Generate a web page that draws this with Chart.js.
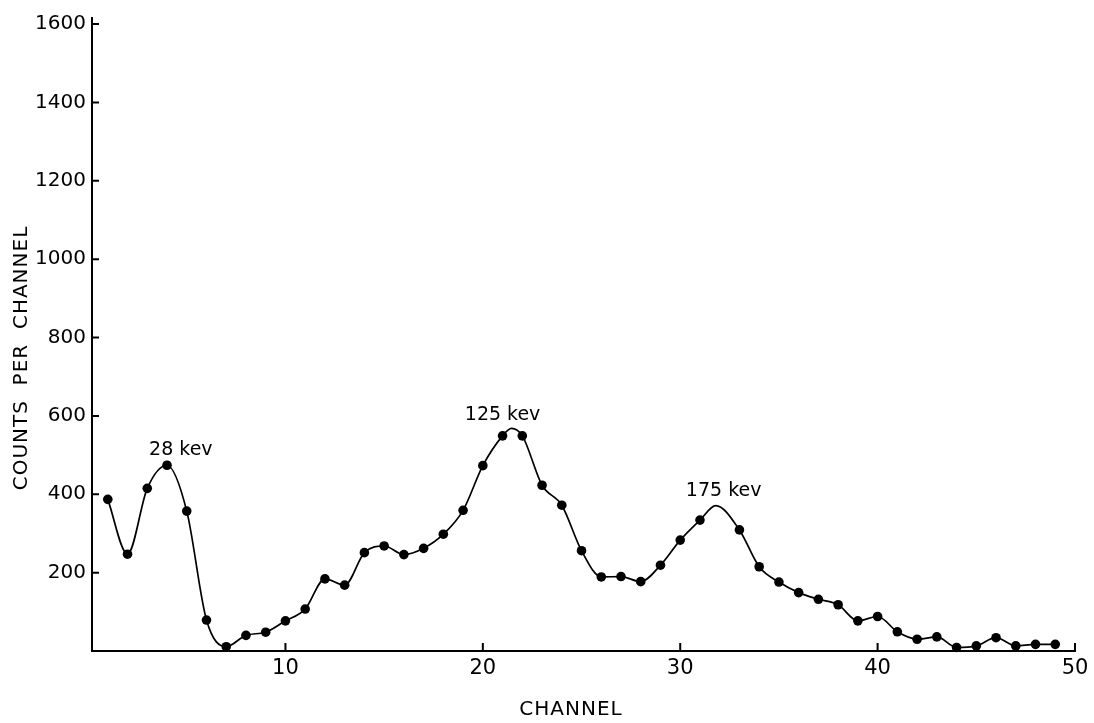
<!DOCTYPE html>
<html>
<head>
<meta charset="utf-8">
<title>Counts per channel</title>
<script src="https://cdn.jsdelivr.net/npm/chart.js@4.4.1/dist/chart.umd.min.js"></script>
<style>
  html, body { margin: 0; padding: 0; background: #fff; }
  #wrap { width: 1094px; height: 723px; }
</style>
</head>
<body>
<div id="wrap"><canvas id="spectrum"></canvas></div>
<script>
// measured points (channel 32 has no dot in the original)
const channels = [1, 2, 3, 4, 5, 6, 7, 8, 9, 10, 11, 12, 13, 14, 15, 16, 17, 18, 19, 20,
                  21, 22, 23, 24, 25, 26, 27, 28, 29, 30, 31, 33, 34, 35, 36, 37, 38, 39, 40,
                  41, 42, 43, 44, 45, 46, 47, 48, 49];
const counts = [387, 247, 415, 474, 357, 79, 11, 40, 48, 77, 107, 184, 168, 251, 268, 246, 262, 298, 359, 473,
                549, 549, 423, 372, 256, 189, 190, 177, 219, 283, 334, 309, 215, 176, 149, 132, 118, 77, 88,
                49, 30, 36, 9, 13, 34, 13, 17, 17];

// tops of the hand drawn curve that fall between dots
const apexChannels = [21.45, 31.8];
const apexCounts = [568, 371];

// peak labels
const peakLabels = ['28 kev', '125 kev', '175 kev'];
const peakLabelChannel = [4.7, 21.0, 32.2];
const peakLabelCount = [514, 601, 409];

const xTicks = [10, 20, 30, 40, 50];
const yTicks = [200, 400, 600, 800, 1000, 1200, 1400, 1600];
const xTitle = 'CHANNEL';
const yTitle = 'COUNTS  PER  CHANNEL';

const font = '"DejaVu Sans", sans-serif';

let points = channels.map((c, i) => ({x: c, y: counts[i]}));
let curve = points.concat(apexChannels.map((c, i) => ({x: c, y: apexCounts[i]})))
    .sort((a, b) => a.x - b.x);

// inward tick marks, axis titles and peak labels, the way the drawing has them
const inkPlugin = {
    id: 'ink',
    afterDatasetsDraw(chart) {
        const {ctx, chartArea} = chart;
        const x = chart.scales.x, y = chart.scales.y;
        ctx.save();
        ctx.strokeStyle = '#000';
        ctx.lineWidth = 2;
        ctx.beginPath();
        yTicks.forEach(v => {
            let py = y.getPixelForValue(v);
            ctx.moveTo(chartArea.left, py);
            ctx.lineTo(chartArea.left + 7, py);
        });
        xTicks.forEach(v => {
            let px = x.getPixelForValue(v);
            ctx.moveTo(px, chartArea.bottom);
            ctx.lineTo(px, chartArea.bottom - 8);
        });
        ctx.moveTo(chartArea.left, chartArea.top);
        ctx.lineTo(chartArea.left, chartArea.top - 7);
        ctx.stroke();

        ctx.fillStyle = '#000';
        ctx.textAlign = 'center';
        ctx.textBaseline = 'middle';
        ctx.font = '19px ' + font;
        peakLabels.forEach((t, i) => {
            ctx.fillText(t, x.getPixelForValue(peakLabelChannel[i]), y.getPixelForValue(peakLabelCount[i]));
        });

        ctx.font = '20px ' + font;
        ctx.letterSpacing = '1px';
        ctx.fillText(xTitle, 571, 710);
        ctx.translate(22, 358);
        ctx.rotate(-Math.PI / 2);
        ctx.fillText(yTitle, 0, 0);
        ctx.restore();
    }
};

new Chart(document.getElementById('spectrum'), {
    type: 'line',
    data: {
        datasets: [{
            label: 'measured',
            data: points,
            showLine: false,
            pointRadius: 4.8,
            pointBackgroundColor: '#000',
            pointBorderWidth: 0,
            clip: false
        }, {
            label: 'curve',
            data: curve,
            borderColor: '#000',
            borderWidth: 1.7,
            pointRadius: 0,
            cubicInterpolationMode: 'monotone',
            fill: false,
            clip: false
        }]
    },
    plugins: [inkPlugin],
    options: {
        responsive: true,
        maintainAspectRatio: false,
        animation: false,
        layout: {padding: {left: 10, top: 24, right: 19, bottom: 1}},
        plugins: {legend: {display: false}, tooltip: {enabled: false}},
        scales: {
            x: {
                type: 'linear',
                min: 0.2,
                max: 50,
                afterBuildTicks: s => { s.ticks = xTicks.map(v => ({value: v})); },
                afterFit: s => { s.height = 71; },
                grid: {display: false, drawTicks: false},
                border: {display: true, color: '#000', width: 2},
                ticks: {color: '#000', font: {family: font, size: 21}, padding: 5, maxRotation: 0,
                        callback: v => String(v)}
            },
            y: {
                min: 0,
                max: 1600,
                afterBuildTicks: s => { s.ticks = yTicks.map(v => ({value: v})); },
                afterFit: s => { s.width = 82; },
                grid: {display: false, drawTicks: false},
                border: {display: true, color: '#000', width: 2},
                ticks: {color: '#000', font: {family: font, size: 20}, padding: 6,
                        callback: v => String(v)}
            }
        }
    }
});
</script>
</body>
</html>
